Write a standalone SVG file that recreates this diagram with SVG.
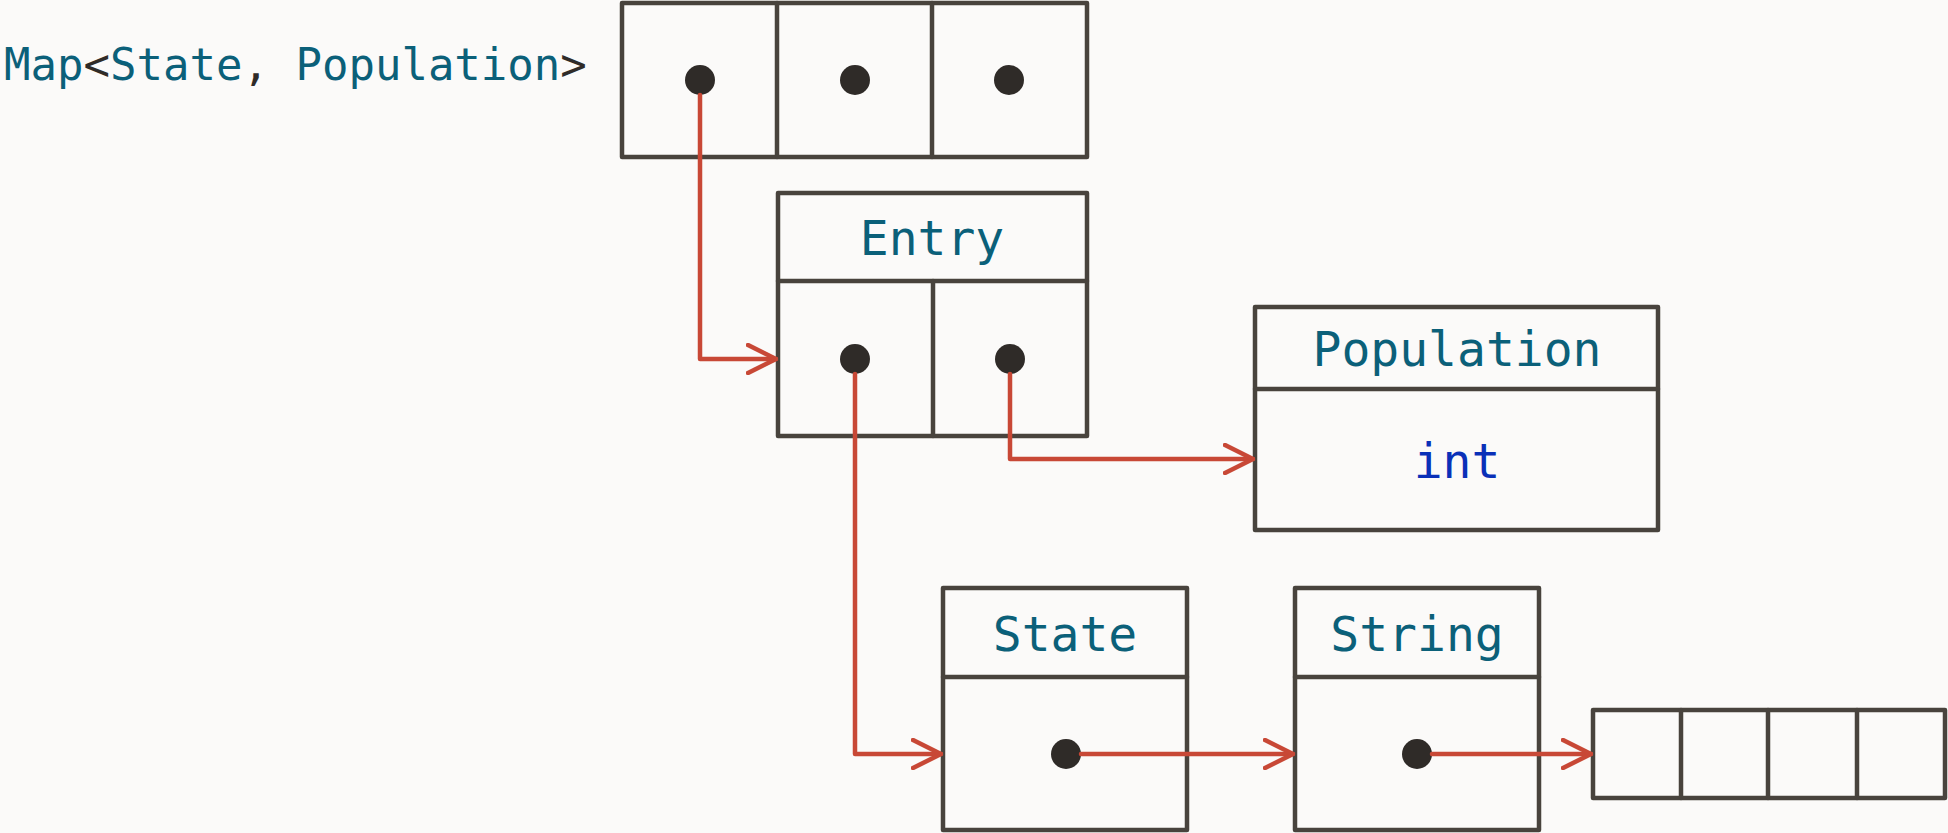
<svg xmlns="http://www.w3.org/2000/svg" width="1948" height="833" viewBox="0 0 1948 833">
  <style>
    .box { fill: none; stroke: #48433d; stroke-width: 4.5; stroke-linejoin: round; stroke-linecap: round; }
    .dot { fill: #2f2b28; }
    .label { font-family: "DejaVu Sans Mono", "Liberation Mono", monospace; font-size: 48px; fill: #0b6079; text-anchor: middle; }
    .kw { fill: #0a30b8; }
    .punct { fill: #2f2b28; }
    .link { fill: none; stroke: #c84836; stroke-width: 4.5; stroke-linejoin: round; stroke-linecap: round; }
  </style>
  <defs>
    <marker id="arrow" viewBox="0 0 32 32" refX="30" refY="16" markerWidth="32" markerHeight="32" markerUnits="userSpaceOnUse" orient="auto">
      <path d="M2,2 L30,16 L2,30" fill="none" stroke="#c84836" stroke-width="4.5" stroke-linecap="round" stroke-linejoin="round"/>
    </marker>
  </defs>
  <rect width="1948" height="833" fill="#fbfaf9"/>

  <!-- type caption for the backing array -->
  <g id="map-label">
    <text x="4" y="80" class="label" style="font-size:44px; text-anchor:start">Map<tspan class="punct">&lt;</tspan>State<tspan class="punct">,</tspan> Population<tspan class="punct">&gt;</tspan></text>
  </g>

  <!-- hash table bucket array -->
  <g id="table">
    <rect class="box" x="622" y="3" width="465" height="154"/>
    <line class="box" x1="777" y1="3" x2="777" y2="157"/>
    <line class="box" x1="932" y1="3" x2="932" y2="157"/>
    <circle class="dot" cx="700" cy="80" r="15"/>
    <circle class="dot" cx="855" cy="80" r="15"/>
    <circle class="dot" cx="1009" cy="80" r="15"/>
  </g>

  <!-- map entry: key and value references -->
  <g id="entry">
    <rect class="box" x="778" y="193" width="309" height="243"/>
    <line class="box" x1="778" y1="281" x2="1087" y2="281"/>
    <line class="box" x1="933" y1="281" x2="933" y2="436"/>
    <text class="label" x="932" y="255">Entry</text>
    <circle class="dot" cx="855" cy="359" r="15"/>
    <circle class="dot" cx="1010" cy="359" r="15"/>
  </g>

  <!-- value object -->
  <g id="population">
    <rect class="box" x="1255" y="307" width="403" height="223"/>
    <line class="box" x1="1255" y1="389" x2="1658" y2="389"/>
    <text class="label" x="1457" y="366">Population</text>
    <text class="label kw" x="1457" y="478">int</text>
  </g>

  <!-- key object -->
  <g id="state">
    <rect class="box" x="943" y="588" width="244" height="242"/>
    <line class="box" x1="943" y1="677" x2="1187" y2="677"/>
    <text class="label" x="1065" y="651">State</text>
    <circle class="dot" cx="1066" cy="754" r="15"/>
  </g>

  <!-- string held by the key -->
  <g id="string">
    <rect class="box" x="1295" y="588" width="244" height="242"/>
    <line class="box" x1="1295" y1="677" x2="1539" y2="677"/>
    <text class="label" x="1417" y="651">String</text>
    <circle class="dot" cx="1417" cy="754" r="15"/>
  </g>

  <!-- character array -->
  <g id="chars">
    <rect class="box" x="1593" y="710" width="352" height="88"/>
    <line class="box" x1="1681" y1="710" x2="1681" y2="798"/>
    <line class="box" x1="1768" y1="710" x2="1768" y2="798"/>
    <line class="box" x1="1857" y1="710" x2="1857" y2="798"/>
  </g>

  <!-- references -->
  <g id="connectors">
    <path class="link" d="M700,95 V359 H776" marker-end="url(#arrow)"/>
    <path class="link" d="M855,374 V754 H941" marker-end="url(#arrow)"/>
    <path class="link" d="M1010,374 V459 H1253" marker-end="url(#arrow)"/>
    <path class="link" d="M1081,754 H1293" marker-end="url(#arrow)"/>
    <path class="link" d="M1432,754 H1591" marker-end="url(#arrow)"/>
  </g>
</svg>
